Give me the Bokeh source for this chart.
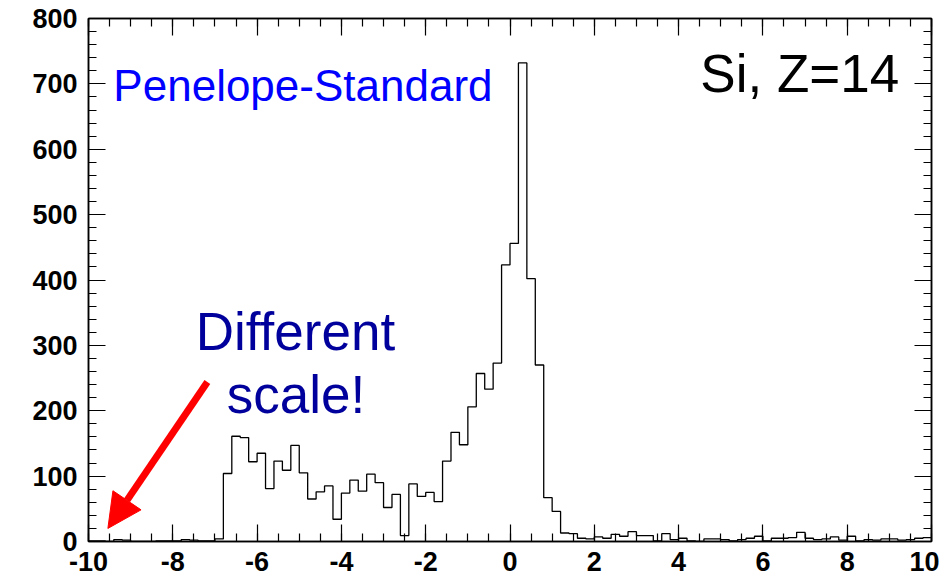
import numpy as np
from bokeh.plotting import figure
from bokeh.models import (Range1d, LinearAxis, SingleIntervalTicker, Label, Arrow, NormalHead,
                          CustomJSTickFormatter)
from bokeh.embed import file_html
from bokeh.resources import INLINE

# ---- data: 100 bins of width 0.2 from -10 to 10 ----
x_lo, x_hi, n_bins = -10.0, 10.0, 100
counts = [
    1, 1, 0, 3, 2, 0, 0, 0, 1, 1, 1, 3, 2, 1, 1, 4,
    104, 161, 159, 122, 135, 81, 123, 109, 147, 105, 65, 76,
    85, 34, 74, 94, 77, 103, 90, 52, 72, 9, 88, 69, 75, 61,
    123, 167, 148, 206, 257, 233, 273, 423, 456, 732, 402, 270, 67, 46, 13, 12,
    5, 4, 7, 5, 11, 8, 15, 9, 9, 1, 12, 3, 5, 1, 0, 4, 4, 3,
    1, 3, 5, 8, 1, 5, 5, 6, 14, 5, 3, 4, 7, 2, 8, 1, 3, 2, 4, 4, 2, 3, 5, 6,
]
x_ticks_interval = 2
y_ticks_interval = 100
y_max = 800

edges = np.linspace(x_lo, x_hi, n_bins + 1)
step_x = list(edges)
step_y = list(counts) + [counts[-1]]

p = figure(width=939, height=573, frame_width=843, frame_height=523,
           x_range=Range1d(x_lo, x_hi), y_range=Range1d(0, y_max),
           output_backend="svg", toolbar_location=None,
           min_border_left=88, min_border_right=8, min_border_top=18, min_border_bottom=5)
p.xgrid.visible = False
p.ygrid.visible = False
p.background_fill_color = "white"
p.border_fill_color = "white"
p.outline_line_color = "black"
p.outline_line_width = 1.5

p.step(x=step_x, y=step_y, mode="after", line_color="black", line_width=1.3)

plain = CustomJSTickFormatter(code="return tick.toFixed(0);")
blank = CustomJSTickFormatter(code="return '';")

def style_axis(ax, interval, nminor, labels=True):
    ax.ticker = SingleIntervalTicker(interval=interval, num_minor_ticks=nminor)
    ax.major_tick_in = 17
    ax.major_tick_out = 0
    ax.minor_tick_in = 8
    ax.minor_tick_out = 0
    ax.major_tick_line_color = "black"
    ax.minor_tick_line_color = "black"
    ax.major_tick_line_width = 1.2
    ax.minor_tick_line_width = 1.2
    ax.axis_line_color = "black"
    ax.axis_line_width = 1.5
    if labels:
        ax.formatter = plain
        ax.major_label_text_font = "Liberation Sans"
        ax.major_label_text_font_style = "bold"
        ax.major_label_text_font_size = "27px"
        ax.major_label_text_color = "black"
    else:
        ax.formatter = blank
        ax.major_label_standoff = 0

style_axis(p.xaxis[0], x_ticks_interval, 4)
p.xaxis[0].major_label_standoff = 10
style_axis(p.yaxis[0], y_ticks_interval, 5)
p.yaxis[0].major_label_standoff = 11

top_ax = LinearAxis()
style_axis(top_ax, x_ticks_interval, 4, labels=False)
p.add_layout(top_ax, "above")
right_ax = LinearAxis()
style_axis(right_ax, y_ticks_interval, 5, labels=False)
p.add_layout(right_ax, "right")

p.add_layout(Label(x=-9.41, y=697, text="Penelope-Standard", text_font="Liberation Sans",
                   text_font_size="44px", text_color="#0000ff", text_baseline="alphabetic"))
p.add_layout(Label(x=4.515, y=716, text="Si, Z=14", text_font="Liberation Sans",
                   text_font_size="53px", text_color="black", text_baseline="alphabetic"))
p.add_layout(Label(x=-5.09, y=321, text="Different", text_font="Liberation Sans",
                   text_font_size="53px", text_color="#00009c", text_baseline="alphabetic",
                   text_align="center"))
p.add_layout(Label(x=-5.08, y=225, text="scale!", text_font="Liberation Sans",
                   text_font_size="53px", text_color="#00009c", text_baseline="alphabetic",
                   text_align="center"))

p.add_layout(Arrow(x_start=-7.18, y_start=244, x_end=-9.54, y_end=20,
                   line_color="#ff0000", line_width=7,
                   end=NormalHead(size=34, fill_color="#ff0000", line_color="#ff0000")))

open("out.html", "w").write(file_html(p, INLINE))
